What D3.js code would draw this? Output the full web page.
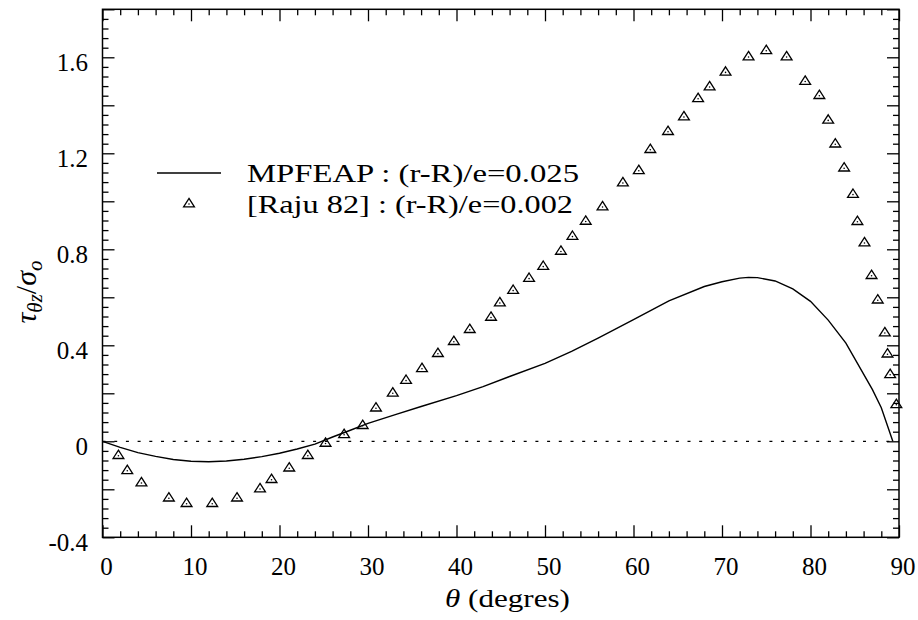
<!DOCTYPE html>
<html>
<head>
<meta charset="utf-8">
<script src="https://cdn.jsdelivr.net/npm/d3@7"></script>
<style>
  html, body { margin: 0; padding: 0; background: #fff; }
  svg { display: block; }
  text { font-family: "Liberation Serif", "Times New Roman", serif; fill: #000; }
</style>
</head>
<body>
<svg id="chart" width="918" height="620"></svg>
<script>
// ---- data ----
const rajuTheta = [1.8, 2.8, 4.4, 7.5, 9.5, 12.4, 15.2, 17.8, 19.1, 21.1, 23.2, 25.2, 27.3, 29.4,
  30.9, 32.8, 34.3, 36.1, 37.9, 39.7, 41.5, 43.9, 44.9, 46.4, 48.2, 49.8, 51.8, 53.1, 54.6, 56.5,
  58.8, 60.6, 61.9, 63.9, 65.7, 67.3, 68.6, 70.4, 73.0, 75.0, 77.3, 79.4, 81.0, 82.0, 82.8, 83.8,
  84.8, 85.3, 86.1, 86.9, 87.6, 88.4, 88.7, 89.0, 89.7];
const rajuTau = [-0.060, -0.123, -0.174, -0.237, -0.260, -0.260, -0.237, -0.199, -0.160, -0.112,
  -0.060, -0.009, 0.027, 0.065, 0.138, 0.200, 0.253, 0.302, 0.365, 0.415, 0.465, 0.516, 0.576,
  0.628, 0.678, 0.728, 0.791, 0.853, 0.916, 0.976, 1.076, 1.127, 1.215, 1.290, 1.351, 1.427,
  1.476, 1.537, 1.601, 1.627, 1.601, 1.499, 1.440, 1.337, 1.238, 1.138, 1.028, 0.915, 0.826,
  0.690, 0.588, 0.451, 0.363, 0.277, 0.152];

const mpfeapTheta = [0, 2, 4, 6, 8, 10, 12, 14, 16, 18, 20, 22, 24, 26, 28, 30, 33, 36, 40, 43, 46,
  50, 53, 56, 60, 64, 68, 70, 72, 73, 74, 76, 78, 80, 82, 84, 86, 87, 88, 89.3];
const mpfeapTau = [0, -0.025, -0.047, -0.063, -0.076, -0.083, -0.085, -0.082, -0.075, -0.064,
  -0.050, -0.032, -0.012, 0.018, 0.046, 0.075, 0.110, 0.145, 0.190, 0.228, 0.270, 0.325, 0.375,
  0.430, 0.507, 0.585, 0.645, 0.665, 0.680, 0.683, 0.682, 0.668, 0.635, 0.583, 0.505, 0.409,
  0.280, 0.215, 0.140, 0.0];

const xTickLabels = [0, 10, 20, 30, 40, 50, 60, 70, 80, 90];
const yTickLabels = [-0.4, 0, 0.4, 0.8, 1.2, 1.6];
const legendLabels = ["MPFEAP : (r-R)/e=0.025", "[Raju 82] : (r-R)/e=0.002"];

// ---- layout ----
const svg = d3.select("#chart");
const L = 102.5, R = 899, T = 9.3, B = 537.3;
const x = d3.scaleLinear().domain([0, 90]).range([L, R]);
const y = d3.scaleLinear().domain([-0.4, 1.8]).range([B, T]);

const xMajor = d3.range(0, 91, 10);
const xMinor = d3.range(0, 91, 2).filter(v => v % 10 !== 0);
const yMajor = d3.range(-0.4, 1.8001, 0.2).map(v => +v.toFixed(2));
const yMinor = d3.range(-0.4, 1.8001, 0.04).map(v => +v.toFixed(2))
  .filter(v => !yMajor.some(m => Math.abs(m - v) < 1e-6));

function axisG(axisFn, scale, vals, size, tr) {
  const g = svg.append("g").attr("transform", tr)
    .call(axisFn(scale).tickValues(vals).tickSize(size).tickFormat(""));
  g.select(".domain").remove();
  g.selectAll(".tick line").attr("stroke", "#000").attr("stroke-width", 1.3);
  return g;
}
axisG(d3.axisBottom, x, xMajor, -12, `translate(0,${B})`);
axisG(d3.axisBottom, x, xMinor, -6, `translate(0,${B})`);
axisG(d3.axisTop, x, xMajor, -12, `translate(0,${T})`);
axisG(d3.axisTop, x, xMinor, -6, `translate(0,${T})`);
axisG(d3.axisLeft, y, yMajor, -12, `translate(${L},0)`);
axisG(d3.axisLeft, y, yMinor, -6, `translate(${L},0)`);
axisG(d3.axisRight, y, yMajor, -12, `translate(${R},0)`);
axisG(d3.axisRight, y, yMinor, -6, `translate(${R},0)`);

// zero dotted line
svg.append("line")
  .attr("x1", x(0)).attr("x2", x(90)).attr("y1", y(0)).attr("y2", y(0))
  .attr("stroke", "#000").attr("stroke-width", 1.2).attr("stroke-dasharray", "3,8.7");

// frame
svg.append("rect").attr("x", L).attr("y", T).attr("width", R - L).attr("height", B - T)
  .attr("fill", "none").attr("stroke", "#000").attr("stroke-width", 1.5);

// tick labels
svg.append("g").selectAll("text").data(xTickLabels).join("text")
  .attr("x", d => x(d) + 4).attr("y", 575).attr("text-anchor", "middle")
  .attr("font-size", 25).text(d => d);
svg.append("g").selectAll("text").data(yTickLabels).join("text")
  .attr("x", 88).attr("y", d => y(d) + 13.5).attr("text-anchor", "end")
  .attr("font-size", 25).text(d => d === 0 ? "0" : d.toFixed(1));

// axis titles
const xt = svg.append("text").attr("x", 445).attr("y", 607).attr("font-size", 26)
  .attr("textLength", 125).attr("lengthAdjust", "spacingAndGlyphs");
xt.append("tspan").attr("font-style", "italic").text("θ");
xt.append("tspan").text(" (degres)");

const yt = svg.append("text").attr("transform", "translate(36,292) rotate(-90)")
  .attr("text-anchor", "middle").attr("font-size", 30);
yt.append("tspan").attr("font-style", "italic").text("τ");
yt.append("tspan").attr("font-style", "italic").attr("font-size", 21).attr("dy", 6).text("θz");
yt.append("tspan").attr("dy", -6).text("/");
yt.append("tspan").attr("font-style", "italic").text("σ");
yt.append("tspan").attr("font-style", "italic").attr("font-size", 21).attr("dy", 6).text("o");

// curve
const line = d3.line().x((d, i) => x(mpfeapTheta[i])).y(d => y(d));
svg.append("path").datum(mpfeapTau).attr("d", line)
  .attr("fill", "none").attr("stroke", "#000").attr("stroke-width", 1.4);

// triangle markers
const triPath = "M0,-5.6L5.4,2.8L-5.4,2.8Z";
function marker(g, cx, cy) {
  const m = g.append("g").attr("transform", `translate(${cx},${cy})`);
  m.append("path").attr("d", triPath).attr("fill", "none").attr("stroke", "#000").attr("stroke-width", 1.3);
  m.append("circle").attr("r", 0.8).attr("fill", "#000");
}
const mg = svg.append("g");
rajuTheta.forEach((t, i) => marker(mg, x(t), y(rajuTau[i])));

// legend
svg.append("line").attr("x1", 157).attr("x2", 221).attr("y1", 173).attr("y2", 173)
  .attr("stroke", "#000").attr("stroke-width", 1.4);
marker(svg, 189, 204);
const legW = [332, 326];
[181.5, 213].forEach((yy, i) => {
  svg.append("text").attr("x", 247).attr("y", yy).attr("font-size", 25)
    .attr("textLength", legW[i]).attr("lengthAdjust", "spacingAndGlyphs")
    .text(legendLabels[i]);
});
</script>
</body>
</html>
